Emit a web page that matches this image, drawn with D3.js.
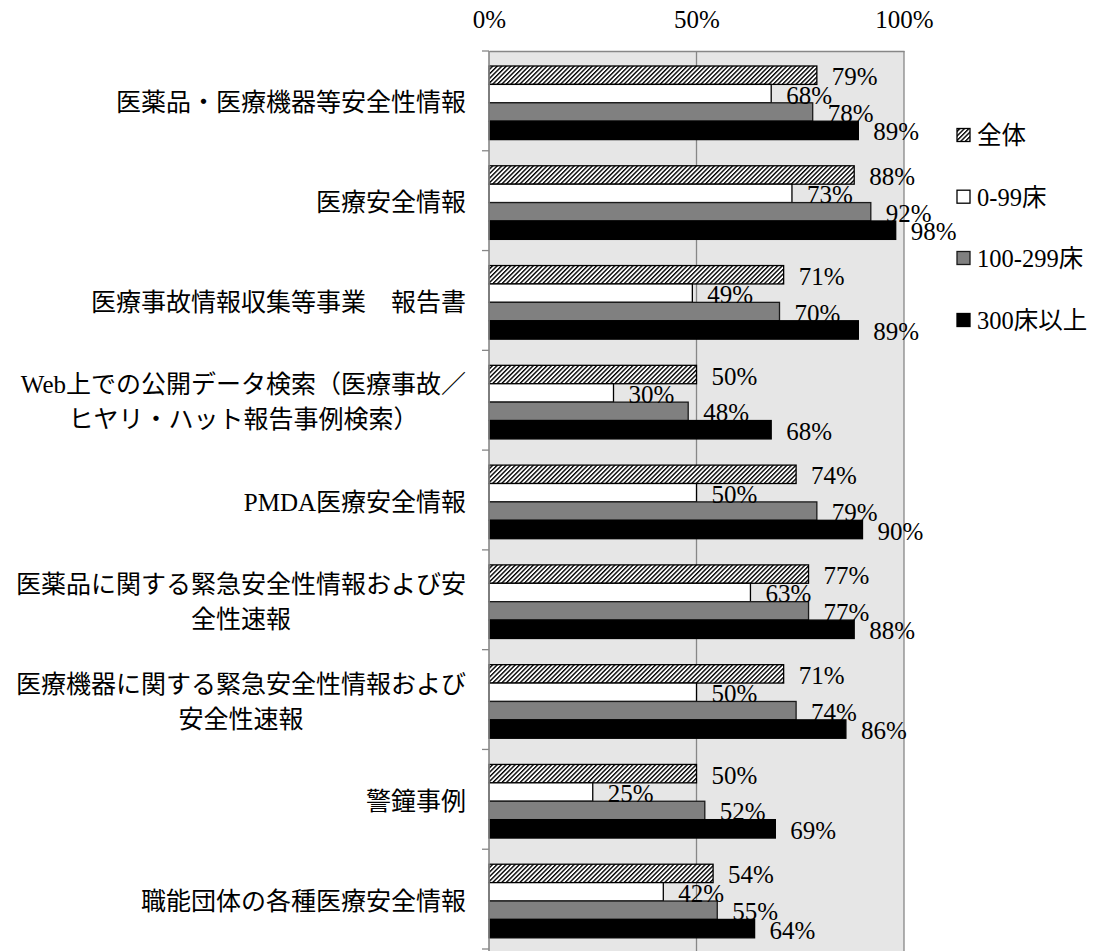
<!DOCTYPE html>
<html>
<head>
<meta charset="utf-8">
<script src="https://cdn.jsdelivr.net/npm/d3@7"></script>
<style>
  html, body { margin: 0; padding: 0; background: #fff; }
  svg text { font-family: "Liberation Serif", "Noto Sans CJK JP", serif; fill: #000; }
</style>
</head>
<body>
<svg id="chart" width="1098" height="951"></svg>
<script>
// Information sources used for patient safety, by hospital size
const categories = [
  "医薬品・医療機器等安全性情報",
  "医療安全情報",
  "医療事故情報収集等事業　報告書",
  "Web上での公開データ検索（医療事故／\nヒヤリ・ハット報告事例検索）",
  "PMDA医療安全情報",
  "医薬品に関する緊急安全性情報および安\n全性速報",
  "医療機器に関する緊急安全性情報および\n安全性速報",
  "警鐘事例",
  "職能団体の各種医療安全情報"
];
const seriesNames = ["全体", "0-99床", "100-299床", "300床以上"];
const allValues   = [79, 88, 71, 50, 74, 77, 71, 50, 54];
const small       = [68, 73, 49, 30, 50, 63, 50, 25, 42];
const medium      = [78, 92, 70, 48, 79, 77, 74, 52, 55];
const large       = [89, 98, 89, 68, 90, 88, 86, 69, 64];
const seriesValues = [allValues, small, medium, large];
const xTicks = [0, 50, 100];

const svg = d3.select("#chart");
const defs = svg.append("defs");
const hatch = defs.append("pattern")
  .attr("id", "hatch")
  .attr("patternUnits", "userSpaceOnUse")
  .attr("width", 3.2).attr("height", 3.2)
  .attr("patternTransform", "rotate(45)");
hatch.append("rect").attr("width", 3.2).attr("height", 3.2).attr("fill", "#fff");
hatch.append("line")
  .attr("x1", 0.7).attr("y1", 0).attr("x2", 0.7).attr("y2", 3.2)
  .attr("stroke", "#000").attr("stroke-width", 1.4);

const fills   = ["url(#hatch)", "#ffffff", "#808080", "#000000"];
const strokes = ["#000", "#000", "#1a1a1a", "#000"];

const plotLeft = 489, plotRight = 904, plotTop = 51, plotBottom = 949;

const x = d3.scaleLinear().domain([0, 100]).range([plotLeft, plotRight]);
const y = d3.scaleBand().domain(d3.range(categories.length)).range([plotTop, plotBottom]);
const yInner = d3.scaleBand().domain(d3.range(seriesNames.length))
  .range([15, 15 + 73.6]);

// plot background
svg.append("rect")
  .attr("x", plotLeft).attr("y", plotTop)
  .attr("width", plotRight - plotLeft).attr("height", plotBottom - plotTop + 2)
  .attr("fill", "#e6e6e6");

// vertical gridlines
svg.append("g").selectAll("line")
  .data(xTicks.filter(d => d > 0))
  .join("line")
  .attr("x1", d => x(d)).attr("x2", d => x(d))
  .attr("y1", plotTop).attr("y2", plotBottom + 2)
  .attr("stroke", "#878787").attr("stroke-width", 1.3);

// top axis
const xAxis = d3.axisTop(x).tickValues(xTicks).tickFormat(d => d + "%").tickSize(0).tickPadding(0);
const gx = svg.append("g").attr("transform", `translate(0,${plotTop})`).call(xAxis);
gx.select(".domain").attr("stroke", "#878787").attr("stroke-width", 1.3);
gx.selectAll("text")
  .attr("y", 28 - plotTop)
  .attr("dy", null)
  .attr("fill", "#000")
  .style("font-size", "25px")
  .style("font-family", "'Liberation Serif', serif");

// bars
const groups = svg.append("g").selectAll("g")
  .data(categories)
  .join("g")
  .attr("transform", (d, i) => `translate(0,${y(i)})`);

groups.each(function(cat, ci) {
  const g = d3.select(this);
  seriesValues.forEach((vals, si) => {
    const v = vals[ci];
    g.append("rect")
      .attr("x", x(0))
      .attr("y", yInner(si))
      .attr("width", x(v) - x(0))
      .attr("height", yInner.bandwidth())
      .attr("fill", fills[si])
      .attr("stroke", strokes[si])
      .attr("stroke-width", 1.3);
  });
});

// value labels
groups.each(function(cat, ci) {
  const g = d3.select(this);
  seriesValues.forEach((vals, si) => {
    const v = vals[ci];
    g.append("text")
      .attr("x", x(v) + 15)
      .attr("y", yInner(si) + yInner.bandwidth() / 2 + 10)
      .style("font-size", "25px")
      .text(v + "%");
  });
});

// left axis
svg.append("line")
  .attr("x1", plotLeft).attr("x2", plotLeft)
  .attr("y1", plotTop).attr("y2", plotBottom + 2)
  .attr("stroke", "#878787").attr("stroke-width", 1.6);
svg.append("g").selectAll("line")
  .data(d3.range(categories.length + 1))
  .join("line")
  .attr("x1", plotLeft - 7).attr("x2", plotLeft)
  .attr("y1", i => plotTop + i * y.step()).attr("y2", i => plotTop + i * y.step())
  .attr("stroke", "#878787").attr("stroke-width", 1.3);

// category labels (multi-line labels are centred within a right-aligned block)
const labelRight = 466;
const lineH = 35;
categories.forEach((cat, i) => {
  const lines = cat.split("\n");
  const cy = y(i) + y.bandwidth() / 2 + 1;
  const t = svg.append("text").style("font-size", "25px");
  const spans = lines.map((ln, k) =>
    t.append("tspan")
      .attr("y", cy + (k - (lines.length - 1) / 2) * lineH)
      .attr("dy", "0.38em")
      .text(ln));
  if (lines.length === 1) {
    t.attr("text-anchor", "end");
    spans[0].attr("x", labelRight);
  } else {
    const w = d3.max(spans, s => s.node().getComputedTextLength());
    t.attr("text-anchor", "middle");
    spans.forEach(s => s.attr("x", labelRight - w / 2));
  }
});

// legend
const legendY = [135, 196.7, 258, 320];
const legend = svg.append("g").selectAll("g")
  .data(seriesNames)
  .join("g")
  .attr("transform", (d, i) => `translate(957,${legendY[i]})`);
legend.append("rect")
  .attr("x", 0).attr("y", -6.5)
  .attr("width", 13).attr("height", 13)
  .attr("fill", (d, i) => fills[i])
  .attr("stroke", (d, i) => strokes[i])
  .attr("stroke-width", 1.3);
legend.append("text")
  .attr("x", 20).attr("y", 0).attr("dy", "0.36em")
  .style("font-size", "24.5px")
  .text(d => d);
</script>
</body>
</html>
